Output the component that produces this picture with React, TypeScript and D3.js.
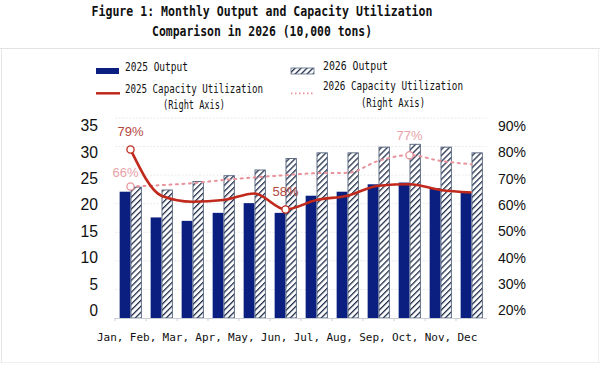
import React from 'react';
import * as d3 from 'd3';

const months = ['Jan', 'Feb', 'Mar', 'Apr', 'May', 'Jun', 'Jul', 'Aug', 'Sep', 'Oct', 'Nov', 'Dec'];
const output2025 = [22.1, 17.6, 17.0, 18.4, 20.1, 18.4, 21.4, 22.1, 23.4, 23.7, 22.7, 21.9];
const output2026 = [22.9, 22.4, 23.9, 24.9, 25.9, 27.9, 28.9, 28.9, 29.9, 30.4, 29.9, 28.9];
const util2025 = [79, 62.8, 60.7, 61.3, 63.6, 58, 61.3, 62.8, 66.3, 66.8, 64.8, 63.9];
const util2026 = [66, 66.5, 67.2, 68.3, 69.2, 70, 70.7, 70.8, 75, 77, 75, 73.8];
const leftTicks = [0, 5, 10, 15, 20, 25, 30, 35];
const rightTicks = [20, 30, 40, 50, 60, 70, 80, 90];

const W = 600;
const H = 366;
const MONO = '"DejaVu Sans Mono", "Liberation Mono", monospace';
const SANS = '"Liberation Sans", Arial, sans-serif';

const NAVY = '#0b1f80';
const RED = '#c0291c';
const PINK = '#e8939c';

export default function App() {
  // plot area
  const x = d3.scaleBand<string>().domain(months).range([115, 487]).paddingInner(0.3).paddingOuter(0.15);
  const x1 = d3.scaleBand<string>().domain(['2025', '2026']).range([0, x.bandwidth()]);
  const y = d3.scaleLinear().domain([0, 35]).range([318, 118]);
  const yR = d3.scaleLinear().domain([20, 90]).range([318, 118]);
  // tick label placement (labels sit a little inside the grid)
  const yLab = d3.scaleLinear().domain([0, 35]).range([310, 125]);
  const yRLab = d3.scaleLinear().domain([20, 90]).range([310, 125.5]);
  const xLab = d3.scalePoint<string>().domain(months).range([97, 457.5]);

  const cx = (m: string) => (x(m) as number) + x.bandwidth() / 2;

  const utilLine = d3.line<number>()
    .x((_, i) => cx(months[i]))
    .y(d => yR(d))
    .curve(d3.curveMonotoneX);

  const markers = [
    { v: util2025[0], i: 0, c: RED, label: '79%', lc: '#b5483e', dx: 0, dy: -18 },
    { v: util2025[5], i: 5, c: RED, label: '58%', lc: '#b5483e', dx: 0, dy: -18 },
    { v: util2026[0], i: 0, c: PINK, label: '66%', lc: '#e8a2a9', dx: -5, dy: -14 },
    { v: util2026[9], i: 9, c: PINK, label: '77%', lc: '#e8a2a9', dx: 0, dy: -20 },
  ];

  return (
    <svg width={W} height={H} style={{ position: 'absolute', left: 0, top: 0, background: '#fff' }}>
      <defs>
        <pattern id="hatch" patternUnits="userSpaceOnUse" width={4.2} height={4.2} patternTransform="rotate(45)">
          <rect width={4.2} height={4.2} fill="#fff" />
          <line x1={0} y1={0} x2={0} y2={4.2} stroke="#22304d" strokeWidth={2.6} />
        </pattern>
      </defs>

      {/* title */}
      <g fontFamily={MONO} fontWeight="bold" fontSize={14} fill="#111" textAnchor="middle">
        <text x={262} y={16} textLength={341} lengthAdjust="spacingAndGlyphs">Figure 1: Monthly Output and Capacity Utilization</text>
        <text x={262} y={36} textLength={220} lengthAdjust="spacingAndGlyphs">Comparison in 2026 (10,000 tons)</text>
      </g>

      {/* frame */}
      <line x1={0} x2={W} y1={48.5} y2={48.5} stroke="#e2e2e2" />
      <line x1={1.5} x2={1.5} y1={48} y2={362} stroke="#e6e6e6" />
      <line x1={598.5} x2={598.5} y1={48} y2={362} stroke="#eeeeee" />
      <line x1={0} x2={W} y1={362.5} y2={362.5} stroke="#eeeeee" />

      {/* legend */}
      <g fontFamily={MONO} fontSize={12} fill="#111">
        <rect x={96} y={68} width={23} height={6} fill={NAVY} />
        <text x={125} y={71} textLength={63} lengthAdjust="spacingAndGlyphs">2025 Output</text>
        <line x1={96} x2={120} y1={93.3} y2={93.3} stroke={RED} strokeWidth={2.5} />
        <text x={125} y={92.5} textLength={138} lengthAdjust="spacingAndGlyphs">2025 Capacity Utilization</text>
        <text x={194} y={109} textAnchor="middle" textLength={62} lengthAdjust="spacingAndGlyphs">(Right Axis)</text>

        <rect x={291} y={68} width={23} height={6} fill="url(#hatch)" stroke="#5a6a82" strokeWidth={0.8} />
        <text x={323} y={69.5} textLength={65} lengthAdjust="spacingAndGlyphs">2026 Output</text>
        <line x1={291} x2={315} y1={93.3} y2={93.3} stroke={PINK} strokeWidth={1.8} strokeDasharray="1.5,2.5" />
        <text x={323} y={90} textLength={140} lengthAdjust="spacingAndGlyphs">2026 Capacity Utilization</text>
        <text x={393} y={106.5} textAnchor="middle" textLength={64} lengthAdjust="spacingAndGlyphs">(Right Axis)</text>
      </g>

      {/* gridlines */}
      {leftTicks.slice(1).map(t => (
        <line key={t} x1={115} x2={487} y1={y(t)} y2={y(t)} stroke="#e4e4e4" strokeWidth={0.8} strokeDasharray="2,1.5" />
      ))}

      {/* bars */}
      {months.map((m, i) => (
        <g key={m} transform={`translate(${x(m)},0)`}>
          <rect x={x1('2025')} y={y(output2025[i])} width={x1.bandwidth()} height={y(0) - y(output2025[i])} fill={NAVY} />
          <rect x={(x1('2026') as number) + 0.5} y={y(output2026[i])} width={x1.bandwidth() - 0.5} height={y(0) - y(output2026[i])}
            fill="url(#hatch)" stroke="#4f5f78" strokeWidth={0.9} />
        </g>
      ))}

      {/* baseline */}
      <line x1={115} x2={487} y1={318.5} y2={318.5} stroke="#c9cdd8" />
      {months.map(m => (
        <line key={m} x1={(x(m) as number) - x.step() * 0.15} x2={(x(m) as number) - x.step() * 0.15} y1={318} y2={321} stroke="#c9cdd8" />
      ))}

      {/* lines */}
      <path d={utilLine(util2026) || ''} fill="none" stroke={PINK} strokeWidth={2} strokeDasharray="2,4.5" strokeLinecap="round" />
      <path d={utilLine(util2025) || ''} fill="none" stroke={RED} strokeWidth={2.6} />

      {markers.map((d, k) => (
        <g key={k}>
          <circle cx={cx(months[d.i])} cy={yR(d.v)} r={3.6} fill="#fff" stroke={d.c} strokeWidth={1.3} />
          <text x={cx(months[d.i]) + d.dx} y={yR(d.v) + d.dy} dy="0.35em" textAnchor="middle"
            fontFamily={SANS} fontSize={13} fill={d.lc}>{d.label}</text>
        </g>
      ))}

      {/* left axis labels */}
      <g fontFamily={SANS} fontSize={17} fill="#111" textAnchor="end">
        {leftTicks.map(t => (
          <text key={t} x={98} y={yLab(t)} dy="0.36em" textLength={t < 10 ? 8.5 : 17.5} lengthAdjust="spacingAndGlyphs">{t}</text>
        ))}
      </g>

      {/* right axis labels */}
      <g fontFamily={SANS} fontSize={15} fill="#111" textAnchor="start">
        {rightTicks.map(t => (
          <text key={t} x={498} y={yRLab(t)} dy="0.36em" textLength={28} lengthAdjust="spacingAndGlyphs">{t}%</text>
        ))}
      </g>

      {/* month labels */}
      <g fontFamily={MONO} fontSize={11} fill="#111">
        {months.map((m, i) => (
          <text key={m} x={xLab(m)} y={341}>{i < months.length - 1 ? m + ',' : m}</text>
        ))}
      </g>
    </svg>
  );
}
